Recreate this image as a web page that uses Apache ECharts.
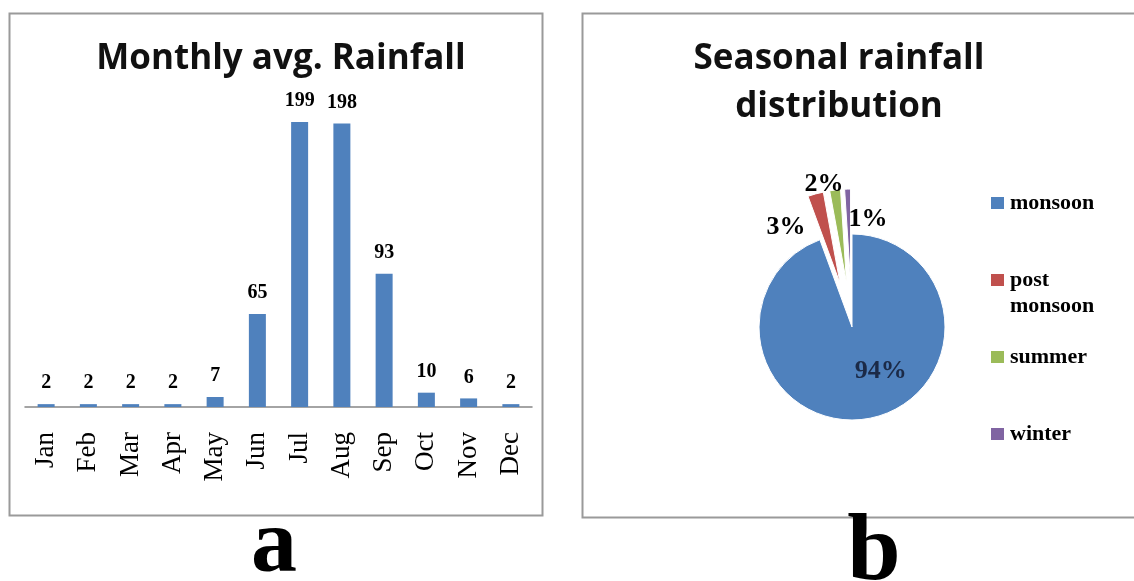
<!DOCTYPE html>
<html>
<head>
<meta charset="utf-8">
<title>Rainfall</title>
<script src="https://cdn.jsdelivr.net/npm/echarts@6/dist/echarts.min.js"></script>
<style>
  html, body { margin: 0; padding: 0; background: #fff; }
  #main { width: 1134px; height: 581px; }
</style>
</head>
<body>
<div id="main"></div>
<script>
// monthly average rainfall (panel a)
const months = ['Jan', 'Feb', 'Mar', 'Apr', 'May', 'Jun', 'Jul', 'Aug', 'Sep', 'Oct', 'Nov', 'Dec']
const monthlyRain = [2, 2, 2, 2, 7, 65, 199, 198, 93, 10, 6, 2]

// seasonal distribution (panel b)
const seasons = ['monsoon', 'post monsoon', 'summer', 'winter']
const seasonRain = [555, 16, 11, 6]
const seasonColors = ['#4f81bd', '#c0504d', '#9bbb59', '#8064a2']

const serif = '"Liberation Serif", "Times New Roman", serif'
const sans = '"Open Sans", Lato, sans-serif'

const chart = echarts.init(document.getElementById('main'))

// nudge the pie labels to where the original places them
const labelShift = [[20, -4], [-4, 37], [14, -2], [45, 34]]

const option = {
  animation: false,
  title: [
    {
      text: 'Monthly avg. Rainfall',
      left: 276,
      top: 37,
      textAlign: 'center',
      textStyle: { fontFamily: sans, fontSize: 35, fontWeight: 'bold', color: '#111' }
    },
    {
      text: 'Seasonal rainfall\ndistribution',
      left: 834,
      top: 30,
      textAlign: 'center',
      textStyle: { fontFamily: sans, fontSize: 35, fontWeight: 'bold', color: '#111', lineHeight: 48 }
    }
  ],
  graphic: [
    { type: 'rect', shape: { x: 9.5, y: 13.5, width: 533, height: 502 }, style: { fill: 'none', stroke: '#9a9a9a', lineWidth: 2 } },
    { type: 'rect', shape: { x: 582.5, y: 13.5, width: 560, height: 504 }, style: { fill: 'none', stroke: '#9a9a9a', lineWidth: 2 } },
    { type: 'text', x: 274, y: 547, style: { text: 'a', font: 'bold 92px ' + serif, fill: '#000', textAlign: 'center', textVerticalAlign: 'middle' } },
    { type: 'text', x: 874, y: 554, style: { text: 'b', font: 'bold 96px ' + serif, fill: '#000', textAlign: 'center', textVerticalAlign: 'middle' } }
  ],
  grid: {
    left: 25,
    width: 507,
    top: 92,
    bottom: 174
  },
  xAxis: {
    type: 'category',
    data: months,
    axisLine: { lineStyle: { color: '#868686', width: 1.5 } },
    axisTick: { show: false },
    axisLabel: {
      rotate: 90,
      margin: 25,
      interval: 0,
      color: '#000',
      fontFamily: serif,
      fontSize: 27
    }
  },
  yAxis: {
    type: 'value',
    min: 0,
    max: 220,
    show: false,
    splitLine: { show: false }
  },
  legend: {
    orient: 'vertical',
    left: 984,
    top: 159,
    itemWidth: 15,
    itemHeight: 14,
    itemGap: -1,
    icon: 'rect',
    data: seasons,
    formatter: function (name) {
      return name === 'post monsoon' ? '\npost\nmonsoon' : '\n' + name + '\n'
    },
    textStyle: { fontFamily: serif, fontSize: 22, fontWeight: 'bold', color: '#000', lineHeight: 26 }
  },
  series: [
    {
      name: 'rainfall',
      type: 'bar',
      data: monthlyRain,
      barWidth: 17,
      itemStyle: { color: '#4f81bd' },
      label: {
        show: true,
        position: 'top',
        distance: 11,
        color: '#000',
        fontFamily: serif,
        fontWeight: 'bold',
        fontSize: 20
      }
    },
    {
      name: 'season',
      type: 'pie',
      center: [852, 327],
      radius: 93,
      startAngle: 90,
      clockwise: true,
      avoidLabelOverlap: false,
      selectedMode: 'multiple',
      selectedOffset: 45,
      itemStyle: { borderColor: '#fff', borderWidth: 1 },
      label: {
        show: true,
        position: 'outside',
        formatter: function (p) { return Math.round(p.percent) + '%' },
        color: '#000',
        fontFamily: serif,
        fontWeight: 'bold',
        fontSize: 26
      },
      labelLine: { show: false, length: 4, length2: 0 },
      labelLayout: function (p) {
        const s = labelShift[p.dataIndex]
        return { dx: s[0], dy: s[1] }
      },
      data: seasons.map(function (name, i) {
        const item = {
          name: name,
          value: seasonRain[i],
          selected: i > 0,
          itemStyle: { color: seasonColors[i] }
        }
        if (i === 0) {
          item.label = { position: 'inside', color: '#1b2a47' }
        }
        return item
      })
    }
  ]
}

option && chart.setOption(option)
</script>
</body>
</html>
